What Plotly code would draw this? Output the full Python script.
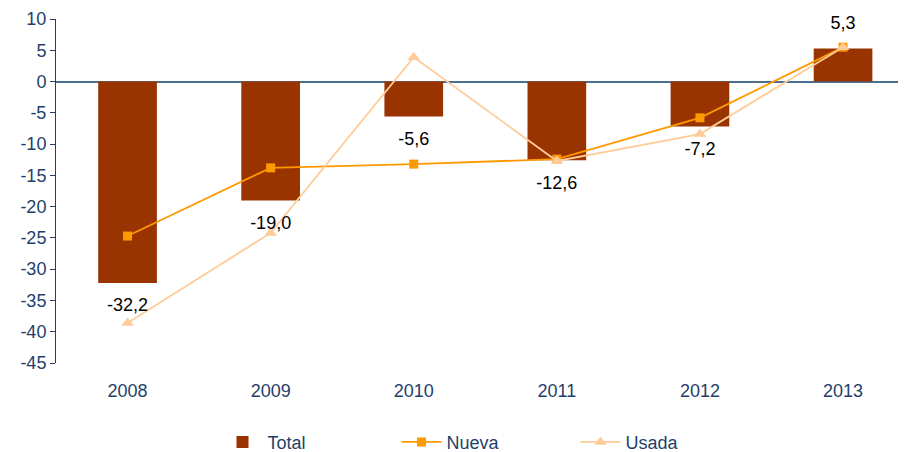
import plotly.graph_objects as go

years = ["2008", "2009", "2010", "2011", "2012", "2013"]
total = [-32.2, -19.0, -5.6, -12.6, -7.2, 5.3]
nueva = [-24.7, -13.8, -13.2, -12.4, -5.8, 5.5]
usada = [-38.6, -24.2, 3.9, -12.7, -8.4, 5.5]
y_ticks = [10, 5, 0, -5, -10, -15, -20, -25, -30, -35, -40, -45]

axis_color = "#1F3F6A"
FONT = "Liberation Sans, Arial"

fig = go.Figure()
fig.add_trace(go.Bar(
    x=years, y=total, name="Total",
    marker=dict(color="#993300", line=dict(width=0)),
    width=0.41,
))
fig.add_trace(go.Scatter(
    x=years, y=nueva, name="Nueva", mode="lines+markers",
    line=dict(color="#FF9900", width=1.8),
    marker=dict(symbol="square", size=9, color="#FF9900"),
))
fig.add_trace(go.Scatter(
    x=years, y=usada, name="Usada", mode="lines+markers",
    line=dict(color="#FFCC99", width=1.8),
    marker=dict(symbol="triangle-up", size=11, color="#FFCC99"),
))
# data labels for the bars
fig.add_trace(go.Scatter(
    x=years, y=total, mode="markers+text", showlegend=False, hoverinfo="skip",
    marker=dict(size=22, color="rgba(0,0,0,0)"),
    text=[f"{v:.1f}".replace(".", ",") for v in total],
    textposition=["bottom center" if v < 0 else "top center" for v in total],
    textfont=dict(family=FONT, size=18, color="black"),
    cliponaxis=False,
))

fig.update_layout(
    width=898, height=444,
    margin=dict(l=48, r=0, t=11, b=89, autoexpand=False),
    plot_bgcolor="white", paper_bgcolor="white",
    font=dict(family=FONT, color=axis_color),
    showlegend=True,
    legend=dict(
        orientation="h", x=0.19, xanchor="left",
        yref="container", y=0.022, yanchor="middle",
        font=dict(family=FONT, size=18, color=axis_color),
        entrywidth=124, entrywidthmode="pixels", itemwidth=40,
    ),
)
fig.update_xaxes(
    type="category", range=[-0.5, 5.44],
    showline=False, showgrid=False, zeroline=False, automargin=False,
    ticks="", tickfont=dict(size=18, color=axis_color), ticklabelstandoff=15,
)
fig.update_yaxes(
    range=[-45, 10], tickvals=y_ticks, ticktext=[str(v) for v in y_ticks],
    showgrid=False, showline=True, linecolor=axis_color, linewidth=1,
    ticks="outside", ticklen=5, tickcolor=axis_color, automargin=False,
    zeroline=True, zerolinecolor="#4A6F8F", zerolinewidth=1.5,
    tickfont=dict(size=18, color=axis_color),
)

fig.write_html("out.html")
